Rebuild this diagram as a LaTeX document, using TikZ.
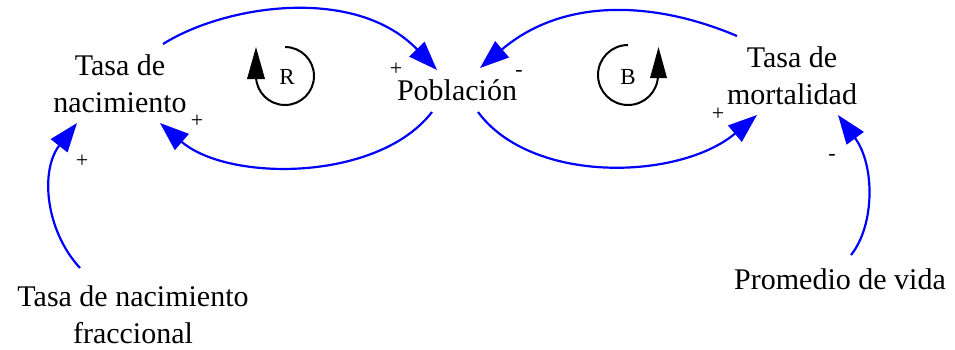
\documentclass[tikz,border=0pt]{standalone}
\usepackage{fontspec}
\setmainfont{Liberation Serif}
\usetikzlibrary{arrows.meta}
\begin{document}
\begin{tikzpicture}[x=1pt,y=-1pt,
  var/.style={font=\fontsize{30}{37}\selectfont, align=center, inner sep=0pt},
  link/.style={draw=blue, line width=2.2pt, -{Triangle[length=29pt,width=21pt]}},
  sign/.style={font=\fontsize{22}{22}\selectfont, inner sep=0pt},
  looplbl/.style={font=\fontsize{23}{23}\selectfont, inner sep=0pt},
  loopline/.style={draw=black, line width=2pt},
]
\useasboundingbox (0,0) rectangle (955,349);

% variables
\node[var] (nac) at (120,84) {Tasa de\\nacimiento};
\node[var, anchor=base] (pob) at (457,100) {Población};
\node[var] (mort) at (792,76) {Tasa de\\mortalidad};
\node[var] (frac) at (133,315) {Tasa de nacimiento\\fraccional};
\node[var, anchor=base] (prom) at (840,289) {Promedio de vida};

% causal links
\draw[link] ([shift={(43,-40)}]nac.center)
  .. controls (225,5) and (355,-15) .. ([shift={(-20,-30)}]pob.base);
\draw[link] ([shift={(-55,-40)}]mort.center)
  .. controls (657,2) and (565,-4) .. ([shift={(23,-32)}]pob.base);
\draw[link] ([shift={(-25,12)}]pob.base)
  .. controls (378,182) and (228,182) .. ([shift={(40,39)}]nac.center);
\draw[link] ([shift={(21,12)}]pob.base)
  .. controls (532,185) and (680,180) .. ([shift={(-35,39)}]mort.center);
\draw[link] ([shift={(-53,-47)}]frac.center)
  .. controls (45,230) and (40,170) .. ([shift={(-43,39)}]nac.center);
\draw[link] ([shift={(11,-34)}]prom.base)
  .. controls (875,225) and (875,165) .. ([shift={(46,39)}]mort.center);

% polarities
\node[sign] (s1) at (396,69) {+};
\node[sign] (s2) at (519,73) {-};
\node[sign] (s3) at (197,121) {+};
\node[sign] (s4) at (718,114) {+};
\node[sign] (s5) at (82,161) {+};
\node[sign] (s6) at (832,157) {-};

% loop markers
\draw[loopline] (285,47) arc[start angle=90, end angle=-180, radius=29pt];
\fill (247,79) -- (265,79) -- (256,47) -- cycle;
\node[looplbl] (loopR) at (287,77) {R};

\draw[loopline] (628,45) arc[start angle=90, end angle=360, radius=30pt];
\fill (650,78) -- (667,78) -- (658.5,47) -- cycle;
\node[looplbl] (loopB) at (628,77) {B};
\end{tikzpicture}
\end{document}
